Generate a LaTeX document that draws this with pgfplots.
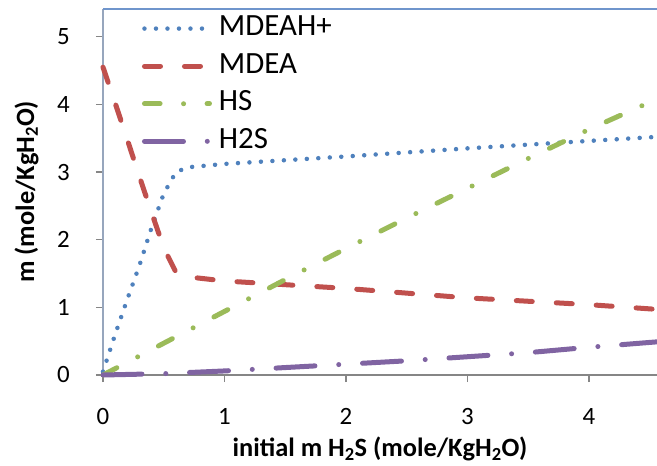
\documentclass[border=0pt]{standalone}
\usepackage{fontspec}
\setmainfont{Carlito}
\usepackage{pgfplots}
\pgfplotsset{compat=1.18}

\definecolor{cblue}{HTML}{4F81BD}
\definecolor{cred}{HTML}{C0504D}
\definecolor{cgreen}{HTML}{9BBB59}
\definecolor{cpurple}{HTML}{8064A2}
\definecolor{axisgray}{HTML}{868686}
\definecolor{leftaxis}{HTML}{97A6BD}
\definecolor{topblue}{HTML}{6F95CC}

\begin{document}
\begin{tikzpicture}
\useasboundingbox (-103bp,-91bp) rectangle (554bp,375bp);
\begin{axis}[
  at={(0,0)}, anchor=south west,
  scale only axis, width=554bp, height=366bp,
  xmin=0, xmax=4.56, ymin=0, ymax=5.41,
  clip=false,
  axis x line*=bottom, axis y line*=left,
  x axis line style={draw=axisgray, line width=1.5bp, -},
  y axis line style={draw=leftaxis, line width=1.8bp, -},
  xtick={0,1,2,3,4}, ytick={0,1,2,3,4,5},
  tick style={draw=axisgray, line width=1.5bp},
  tick align=outside, major tick length=7bp,
  tick label style={font=\fontsize{25}{30}\selectfont, inner sep=0pt},
  xticklabel style={anchor=north, yshift=-26bp},
  yticklabel style={anchor=east, xshift=-26bp},
  /pgf/number format/assume math mode=true,
  xlabel={\bfseries initial m H\textsubscript{2}S (mole/KgH\textsubscript{2}O)},
  ylabel={\bfseries m (mole/KgH\textsubscript{2}O)},
  label style={font=\fontsize{26.5}{31}\selectfont},
  xlabel style={at={(axis description cs:0.5,-0.202)}, anchor=center},
  ylabel style={at={(axis description cs:-0.138,0.5)}, anchor=center},
  legend style={at={(axis description cs:0.070,0.988)}, anchor=north west,
    draw=none, fill=none, inner sep=0pt, row sep=7.6bp,
    font=\fontsize{31}{36}\selectfont,
    nodes={text height=20bp, text depth=6bp},
    /tikz/every odd column/.append style={column sep=5bp}},
  legend cell align=left,
  legend image code/.code={\draw[#1] (0bp,0bp) -- (65bp,0bp);},
  every axis plot/.append style={line cap=round, line join=round},
]
% MDEAH+
\addplot[cblue, line width=4.5bp, dash pattern=on 0bp off 11.5bp] coordinates {
  (0,0.05) (0.1,0.60) (0.2,1.12) (0.3,1.62) (0.4,2.18) (0.5,2.68)
  (0.6,3.00) (0.7,3.07) (1,3.12) (2,3.23) (3,3.35) (4,3.46) (4.56,3.52)};
\addlegendentry{MDEAH+}
% MDEA
\addplot[cred, line width=5bp, dash pattern=on 16bp off 24bp] coordinates {
  (0,4.55) (0.1,4.02) (0.2,3.48) (0.3,2.93) (0.4,2.40) (0.5,1.88)
  (0.6,1.52) (0.7,1.45) (1,1.39) (2,1.28) (3,1.14) (4,1.04) (4.56,0.97)};
\addlegendentry{MDEA}
% HS-
\addplot[cgreen, line width=5bp, dash pattern=on 15.6bp off 23.5bp on 0bp off 23.5bp] coordinates {
  (0,0) (0.5,0.47) (1,0.94) (1.5,1.41) (2,1.87) (2.5,2.32) (3,2.76)
  (3.5,3.20) (4,3.63) (4.56,4.08)};
\addlegendentry{HS}
% H2S
\addplot[cpurple, line width=5bp, dash pattern=on 39bp off 23.8bp on 0bp off 23.8bp] coordinates {
  (0,0) (0.5,0.02) (1,0.06) (1.5,0.11) (2,0.16) (2.5,0.21) (3,0.27)
  (3.5,0.33) (4,0.41) (4.56,0.49)};
\addlegendentry{H2S}
\draw[topblue, line width=1.5bp] (rel axis cs:0,1) -- (rel axis cs:1,1);
\end{axis}
\end{tikzpicture}
\end{document}
